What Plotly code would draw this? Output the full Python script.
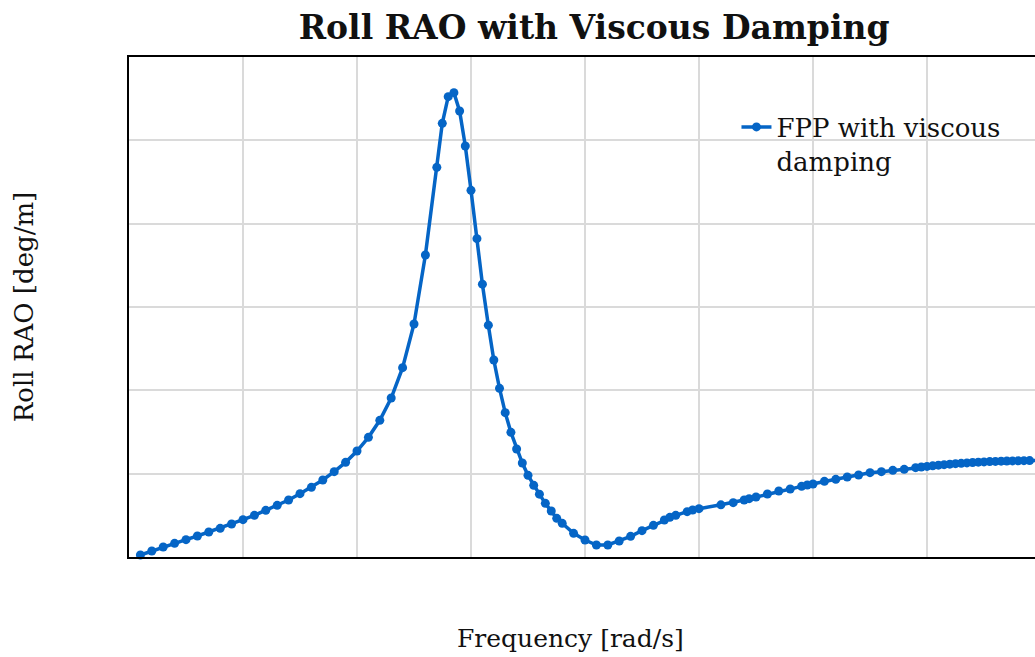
import plotly.graph_objects as go

# Frequency [rad/s]
freq = [0.025, 0.05, 0.075, 0.1, 0.125, 0.15, 0.175, 0.2, 0.225, 0.25,
        0.275, 0.3, 0.325, 0.35, 0.375, 0.4, 0.425, 0.45, 0.475, 0.5,
        0.525, 0.55, 0.575, 0.6, 0.625, 0.65, 0.675, 0.687, 0.7, 0.7125,
        0.725, 0.7375, 0.75, 0.763, 0.775, 0.788, 0.8, 0.8125, 0.825, 0.8375,
        0.85, 0.8625, 0.875, 0.8875, 0.9, 0.913, 0.926, 0.938, 0.95, 0.975,
        1.0, 1.025, 1.05, 1.075, 1.1, 1.125, 1.15, 1.174, 1.186, 1.199,
        1.224, 1.236, 1.25, 1.298, 1.325, 1.349, 1.36, 1.375, 1.4, 1.425,
        1.45, 1.475, 1.4875, 1.5, 1.525, 1.55, 1.575, 1.6, 1.625, 1.65,
        1.675, 1.7, 1.725, 1.7375, 1.75, 1.7625, 1.775, 1.7875, 1.8, 1.8125,
        1.825, 1.8375, 1.85, 1.8625, 1.875, 1.8875, 1.9, 1.9125, 1.925, 1.9375,
        1.95, 1.9625, 1.975, 1.9875]

# Roll RAO [deg/m]
rao = [0.024, 0.072, 0.12, 0.164, 0.208, 0.252, 0.300, 0.344, 0.396, 0.448,
       0.500, 0.560, 0.620, 0.684, 0.760, 0.836, 0.924, 1.024, 1.136, 1.272,
       1.436, 1.640, 1.908, 2.272, 2.796, 3.624, 4.676, 5.204, 5.524, 5.572,
       5.352, 4.932, 4.400, 3.820, 3.274, 2.782, 2.364, 2.024, 1.732, 1.496,
       1.296, 1.128, 0.980, 0.860, 0.754, 0.644, 0.552, 0.464, 0.404, 0.284,
       0.204, 0.144, 0.144, 0.192, 0.248, 0.316, 0.380, 0.444, 0.476, 0.500,
       0.544, 0.564, 0.580, 0.626, 0.652, 0.684, 0.700, 0.720, 0.756, 0.792,
       0.816, 0.848, 0.864, 0.876, 0.908, 0.932, 0.960, 0.984, 1.012, 1.024,
       1.040, 1.052, 1.072, 1.080, 1.087, 1.094, 1.102, 1.108, 1.114, 1.120,
       1.124, 1.129, 1.134, 1.138, 1.141, 1.145, 1.147, 1.150, 1.152, 1.153,
       1.154, 1.156, 1.157, 1.157]

series_name = "FPP with viscous<br>damping"
title_text = "<b>Roll RAO with Viscous Damping</b>"
x_label = "Frequency [rad/s]"
y_label = "Roll RAO [deg/m]"

FONT = "DejaVu Serif"
BLUE = "#0565c6"
INK = "#111111"

fig = go.Figure()
fig.add_trace(go.Scatter(
    x=freq, y=rao, mode="lines+markers", name=series_name,
    line=dict(color=BLUE, width=3.5),
    marker=dict(color=BLUE, size=9),
    cliponaxis=False,
))

fig.update_layout(
    width=1035, height=657,
    margin=dict(l=129, r=0, t=57, b=100),
    paper_bgcolor="white", plot_bgcolor="white",
    font=dict(family=FONT, size=26, color=INK),
    title=dict(text=title_text, x=0.574, xanchor="center", xref="container",
               y=1 - 27 / 657, yanchor="middle", yref="container",
               font=dict(family=FONT, size=33, color=INK)),
    showlegend=True,
    legend=dict(x=0.6705, y=0.907, xanchor="left", yanchor="top",
                bgcolor="rgba(0,0,0,0)", valign="top",
                font=dict(family=FONT, size=26, color=INK)),
    annotations=[dict(text=x_label, xref="paper", yref="paper",
                      x=(570 - 129) / 906, y=-(638 - 557) / 500,
                      xanchor="center", yanchor="middle", showarrow=False,
                      font=dict(family=FONT, size=25, color=INK))],
)
fig.update_xaxes(range=[0, 1.9868], dtick=0.25, tick0=0,
                 showticklabels=False, ticks="",
                 showgrid=True, gridcolor="#dadada", gridwidth=2,
                 zeroline=False, showline=True, linecolor="black", linewidth=2,
                 mirror=True)
fig.update_yaxes(range=[0, 6], dtick=1, tick0=0,
                 showticklabels=False, ticks="",
                 showgrid=True, gridcolor="#dadada", gridwidth=2,
                 zeroline=False, showline=True, linecolor="black", linewidth=2,
                 mirror=False,
                 title=dict(text=y_label, standoff=86,
                            font=dict(family=FONT, size=26, color=INK)))

fig.write_html("out.html")
